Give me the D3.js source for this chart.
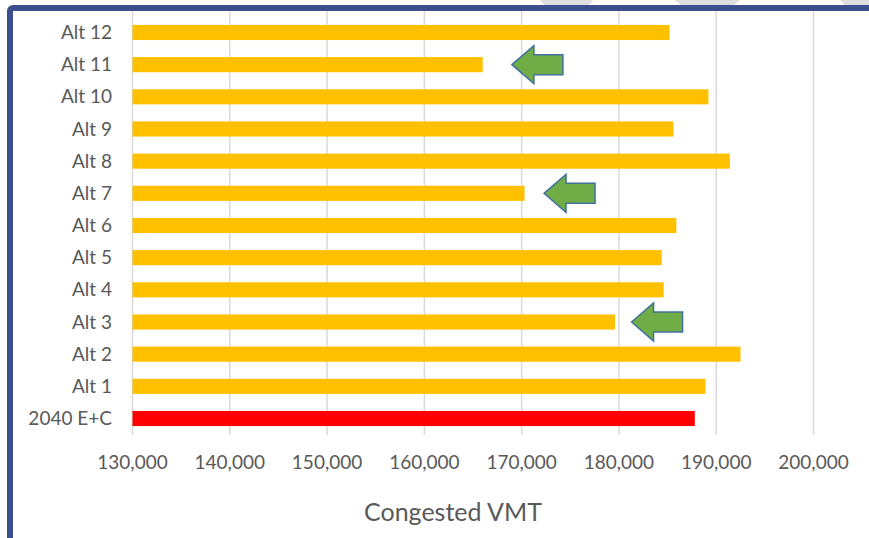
<!DOCTYPE html>
<html>
<head>
<meta charset="utf-8">
<script src="https://cdn.jsdelivr.net/npm/d3@7"></script>
<style>
  body { margin: 0; background: #fff; }
  svg { display: block; font-family: Lato, "Open Sans", sans-serif; }
</style>
</head>
<body>
<div id="chart"></div>
<script>
// Congested VMT per alternative
const categories = ["Alt 12", "Alt 11", "Alt 10", "Alt 9", "Alt 8", "Alt 7", "Alt 6",
  "Alt 5", "Alt 4", "Alt 3", "Alt 2", "Alt 1", "2040 E+C"];
const values = [185200, 166000, 189200, 185600, 191400, 170300, 185900,
  184400, 184600, 179600, 192500, 188900, 187800];
const xTicks = [130000, 140000, 150000, 160000, 170000, 180000, 190000, 200000];

// arrows pointing at the lowest alternatives (tip position in VMT)
const arrowCats = ["Alt 11", "Alt 7", "Alt 3"];
const arrowTips = [169000, 172300, 181300];

const width = 869;
const height = 538;

const svg = d3.select("#chart").append("svg")
    .attr("width", width)
    .attr("height", height);

// decorative gray shapes peeking above the frame
const deco = ["M540,0 L593,0 L588,6 L545,6 Z", "M675,0 L740,0 L733,6 L682,6 Z", "M840,0 L869,0 L869,6 L845,6 Z"];
svg.selectAll(".deco")
    .data(deco)
    .enter().append("path")
    .attr("d", function(d) { return d; })
    .attr("fill", "#dedede");

// frame
svg.append("rect")
    .attr("x", 10)
    .attr("y", 8)
    .attr("width", 900)
    .attr("height", 600)
    .attr("rx", 3)
    .attr("fill", "#fff")
    .attr("stroke", "#3d4e8d")
    .attr("stroke-width", 6);

const x = d3.scaleLinear()
    .domain([130000, 200000])
    .range([132.5, 813.5]);

const y = d3.scaleBand()
    .domain(categories)
    .range([16.4, 434.6])
    .paddingInner(0.53)
    .paddingOuter(0.265);

// gridlines
svg.selectAll(".grid")
    .data(xTicks)
    .enter().append("line")
    .attr("x1", function(d) { return x(d); })
    .attr("x2", function(d) { return x(d); })
    .attr("y1", 11)
    .attr("y2", 435)
    .attr("stroke", "#d9d9d9")
    .attr("stroke-width", 1.5);

// bars
svg.selectAll(".bar")
    .data(categories)
    .enter().append("rect")
    .attr("class", "bar")
    .attr("x", x(130000))
    .attr("y", function(d) { return y(d); })
    .attr("width", function(d, i) { return x(values[i]) - x(130000); })
    .attr("height", y.bandwidth())
    .attr("fill", function(d) { return d === "2040 E+C" ? "#ff0000" : "#ffc000"; });

// category labels
svg.selectAll(".ylabel")
    .data(categories)
    .enter().append("text")
    .attr("x", 112)
    .attr("y", function(d) { return y(d) + y.bandwidth() / 2; })
    .attr("dy", "0.35em")
    .attr("text-anchor", "end")
    .style("font-size", "19px")
    .style("fill", "#595959")
    .text(function(d) { return d; });

// tick labels
svg.selectAll(".xlabel")
    .data(xTicks)
    .enter().append("text")
    .attr("x", function(d) { return x(d); })
    .attr("y", 469)
    .attr("text-anchor", "middle")
    .style("font-size", "19px")
    .style("fill", "#595959")
    .text(d3.format(","));

// axis title
svg.append("text")
    .attr("x", 453)
    .attr("y", 521)
    .attr("text-anchor", "middle")
    .style("font-size", "25px")
    .style("fill", "#595959")
    .text("Congested VMT");

// green arrows
svg.selectAll(".arrow")
    .data(arrowCats)
    .enter().append("path")
    .attr("d", function(d, i) {
      const tx = x(arrowTips[i]);
      const cy = y(d) + y.bandwidth() / 2;
      return "M" + tx + "," + cy +
        " L" + (tx + 22) + "," + (cy - 19) +
        " L" + (tx + 22) + "," + (cy - 10) +
        " L" + (tx + 51) + "," + (cy - 10) +
        " L" + (tx + 51) + "," + (cy + 10) +
        " L" + (tx + 22) + "," + (cy + 10) +
        " L" + (tx + 22) + "," + (cy + 19) + " Z";
    })
    .attr("fill", "#70ad47")
    .attr("stroke", "#41719c")
    .attr("stroke-width", 1.5);
</script>
</body>
</html>
